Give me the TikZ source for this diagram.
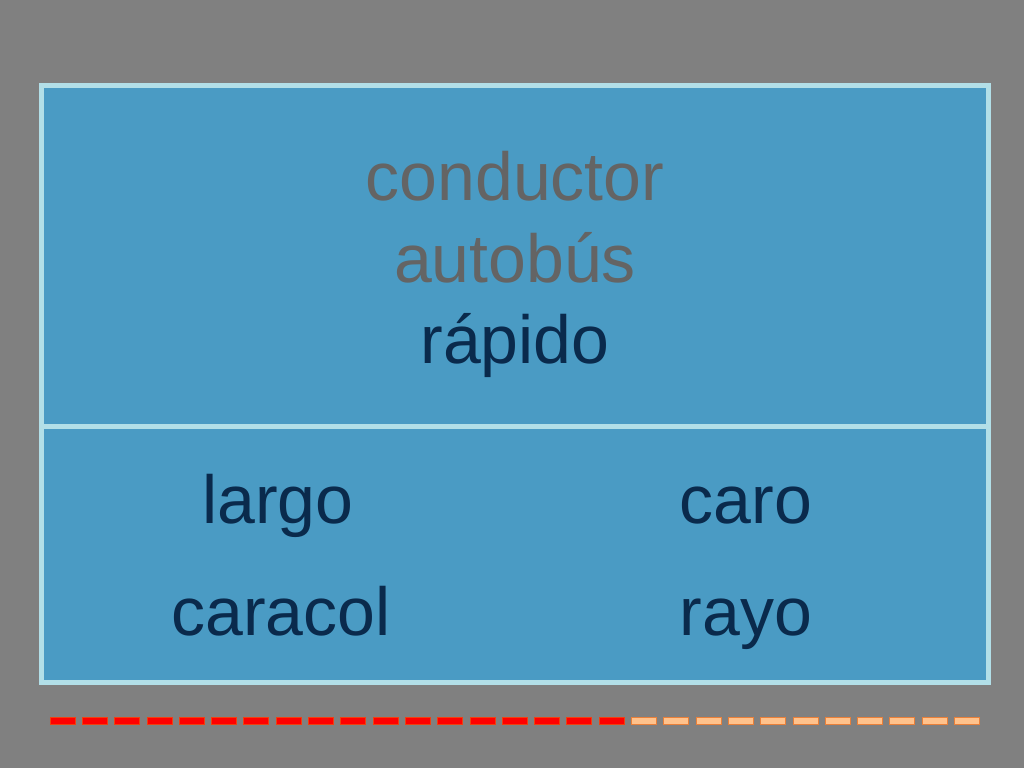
\documentclass[tikz,border=0pt]{standalone}
\usepackage{fontspec}
\setmainfont{Liberation Sans}
\definecolor{bg}{HTML}{808080}
\definecolor{panel}{HTML}{4A9BC4}
\definecolor{rim}{HTML}{B2DFE8}
\definecolor{greytxt}{HTML}{646464}
\definecolor{navy}{HTML}{0A2A4C}
\definecolor{dashred}{HTML}{FF0000}
\definecolor{dashredrim}{HTML}{F04010}
\definecolor{dashorange}{HTML}{FFC28C}
\definecolor{dashorangerim}{HTML}{E8803A}
\tikzset{
  panelbox/.style={draw=rim, fill=panel, line width=5pt, rectangle, inner sep=0pt},
  word/.style={anchor=base, inner sep=0pt, font=\fontsize{68}{80}\selectfont},
  reddash/.style={fill=dashred, draw=dashredrim, line width=0.8pt},
  orangedash/.style={fill=dashorange, draw=dashorangerim, line width=0.8pt}
}
\begin{document}
\begin{tikzpicture}[x=1pt,y=-1pt]
\fill[bg] (0,0) rectangle (1024,768);
\useasboundingbox (0,0) rectangle (1024,768);
\node[panelbox, minimum width=947pt, minimum height=341pt] (top) at (514.5,255.5) {};
\node[panelbox, minimum width=947pt, minimum height=256pt] (bottom) at (514.5,554.5) {};
\node[word, text=greytxt] (w1) at (515,200) {conductor};
\node[word, text=greytxt] (w2) at (515,282) {autobús};
\node[word, text=navy] (w3) at (515,363) {rápido};
\node[word, text=navy] (w4) at (278,523) {largo};
\node[word, text=navy] (w5) at (281,635) {caracol};
\node[word, text=navy] (w6) at (746,523) {caro};
\node[word, text=navy] (w7) at (746,635) {rayo};
\foreach \i in {0,...,17}{
  \draw[reddash] ({50+32.3*\i},717.5) rectangle ({75+32.3*\i},724.5);
}
\foreach \i in {18,...,28}{
  \draw[orangedash] ({50+32.3*\i},717.5) rectangle ({75+32.3*\i},724.5);
}
\end{tikzpicture}
\end{document}
